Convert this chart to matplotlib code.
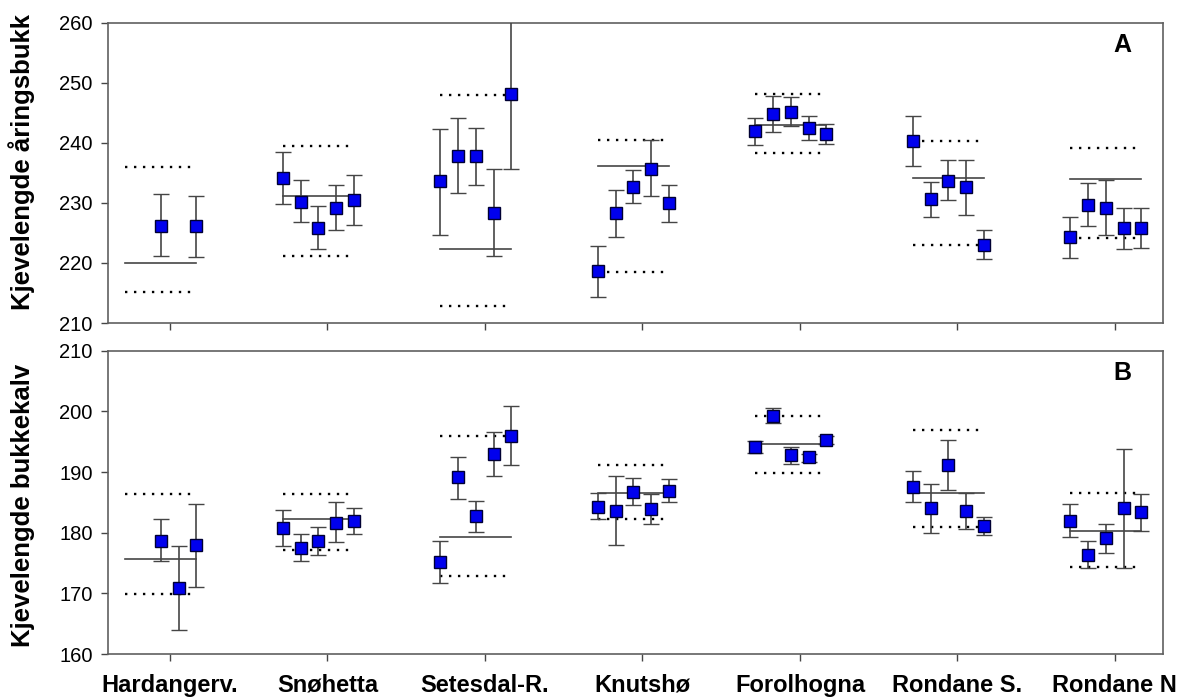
import numpy as np
import matplotlib
matplotlib.use('Agg')
import matplotlib.pyplot as plt

plt.rcParams['font.family'] = ['Liberation Sans', 'DejaVu Sans']

nan = np.nan
regions = ['Hardangerv.', 'Snøhetta', 'Setesdal-R.', 'Knutshø',
           'Forolhogna', 'Rondane S.', 'Rondane N']

# Panel A: Kjevelengde åringsbukk (5 year slots per region)
a_mean = [[nan, nan, 226.2, nan, 226.1],
          [234.1, 230.2, 225.9, 229.2, 230.4],
          [233.6, 237.8, 237.8, 228.4, 248.1],
          [218.6, 228.3, 232.6, 235.7, 229.9],
          [241.9, 244.8, 245.1, 242.4, 241.4],
          [240.3, 230.6, 233.7, 232.6, 223.0],
          [224.4, 229.7, 229.2, 225.8, 225.8]]
a_hi = [[nan, nan, 231.4, nan, 231.2],
        [238.5, 233.8, 229.5, 233.0, 234.7],
        [242.3, 244.1, 242.5, 235.6, 260.6],
        [222.8, 232.2, 235.4, 240.5, 233.0],
        [244.1, 247.8, 247.7, 244.4, 243.1],
        [244.4, 233.5, 237.2, 237.2, 225.5],
        [227.7, 233.3, 233.8, 229.2, 229.1]]
a_lo = [[nan, nan, 221.2, nan, 221.0],
        [229.8, 226.8, 222.4, 225.5, 226.3],
        [224.7, 231.6, 233.0, 221.1, 235.6],
        [214.4, 224.4, 230.0, 231.1, 226.8],
        [239.7, 241.8, 242.8, 240.4, 239.8],
        [236.1, 227.7, 230.4, 228.0, 220.6],
        [220.9, 226.2, 224.6, 222.3, 222.5]]
a_level = [220.0, 231.1, 222.3, 236.1, 242.9, 234.1, 234.0]
a_upper = [236.0, 239.4, 248.0, 240.5, 248.1, 240.3, 239.2]
a_lower = [215.2, 221.2, 212.9, 218.5, 238.3, 223.0, 224.1]

# Panel B: Kjevelengde bukkekalv
b_mean = [[nan, nan, 178.6, 170.9, 177.9],
          [180.8, 177.5, 178.7, 181.6, 181.9],
          [175.2, 189.1, 182.7, 193.0, 195.9],
          [184.3, 183.6, 186.7, 183.9, 186.9],
          [194.2, 199.3, 192.8, 192.4, 195.3],
          [187.6, 184.0, 191.1, 183.6, 181.1],
          [182.0, 176.3, 179.2, 184.0, 183.4]]
b_hi = [[nan, nan, 182.2, 177.8, 184.8],
        [183.8, 179.8, 181.0, 185.0, 184.1],
        [178.7, 192.5, 185.3, 196.6, 200.8],
        [186.5, 189.3, 189.0, 186.3, 188.8],
        [195.1, 200.5, 194.2, 193.0, 196.0],
        [190.1, 188.0, 195.2, 186.5, 182.6],
        [184.7, 178.7, 181.5, 193.8, 186.4]]
b_lo = [[nan, nan, 175.3, 164.0, 171.0],
        [177.8, 175.3, 176.4, 178.4, 179.8],
        [171.7, 185.6, 180.1, 189.3, 191.1],
        [182.2, 178.0, 184.5, 181.5, 185.0],
        [193.2, 198.1, 191.4, 191.7, 194.6],
        [185.0, 180.0, 187.0, 180.6, 179.7],
        [179.3, 174.1, 176.6, 174.2, 180.3]]
b_level = [175.7, 182.3, 179.3, 186.6, 194.7, 186.6, 180.3]
b_upper = [186.3, 186.4, 195.9, 191.2, 199.3, 197.0, 186.5]
b_lower = [169.9, 177.1, 172.9, 182.3, 189.8, 181.0, 174.3]

offsets = (np.arange(5) - 2) * 0.113 - 0.058
grey = '#454545'


def panel(ax, mean, hi, lo, level, upper, lower, ylim, letter, ylabel):
    mean, hi, lo = np.array(mean), np.array(hi), np.array(lo)
    for i in range(len(regions)):
        x = i + 1 + offsets
        x0, x1 = x[0], x[-1]
        ax.plot([x0, x1], [level[i]] * 2, color=grey, lw=1.2, zorder=1)
        ax.plot([x0, x1], [upper[i]] * 2, color='black', lw=1.7,
                ls=(0, (1, 2.8)), zorder=1)
        ax.plot([x0, x1], [lower[i]] * 2, color='black', lw=1.7,
                ls=(0, (1, 2.8)), zorder=1)
        ok = ~np.isnan(mean[i])
        ax.errorbar(x[ok], mean[i][ok],
                    yerr=[mean[i][ok] - lo[i][ok], hi[i][ok] - mean[i][ok]],
                    fmt='s', ms=8, mfc='#0000EE', mec='#000033', mew=1.0,
                    ecolor=grey, elinewidth=1.2, capsize=5.5, capthick=1.2,
                    zorder=3)
    ax.set_xlim(0.606, 7.305)
    ax.set_ylim(*ylim)
    ax.set_yticks(np.arange(ylim[0], ylim[1] + 1, 10))
    ax.set_xticks(np.arange(1, 8))
    ax.tick_params(direction='out', length=5, width=1, color=grey,
                   labelsize=14.5, pad=6)
    for s in ax.spines.values():
        s.set_color('#606060')
        s.set_linewidth(1.2)
    ax.text(0.962, 0.925, letter, transform=ax.transAxes, fontsize=18,
            fontweight='bold', ha='center', va='center')
    ax.set_ylabel(ylabel, fontsize=18.5, fontweight='bold')


fig = plt.figure(figsize=(11.85, 6.98), dpi=100)
ax_a = fig.add_axes([0.0911, 0.5372, 0.8903, 0.4303])
ax_b = fig.add_axes([0.0911, 0.0630, 0.8903, 0.4346])

panel(ax_a, a_mean, a_hi, a_lo, a_level, a_upper, a_lower, (210, 260), 'A',
      'Kjevelengde åringsbukk')
panel(ax_b, b_mean, b_hi, b_lo, b_level, b_upper, b_lower, (160, 210), 'B',
      'Kjevelengde bukkekalv')

ax_a.set_xticklabels([])
ax_b.set_xticklabels(regions, fontsize=17, fontweight='bold')
ax_b.tick_params(axis='x', pad=22)
for lab in ax_b.get_xticklabels():
    lab.set_verticalalignment('baseline')
ax_a.yaxis.set_label_coords(-0.069, 0.535)
ax_b.yaxis.set_label_coords(-0.069, 0.49)

fig.savefig('out.png', dpi=100)
